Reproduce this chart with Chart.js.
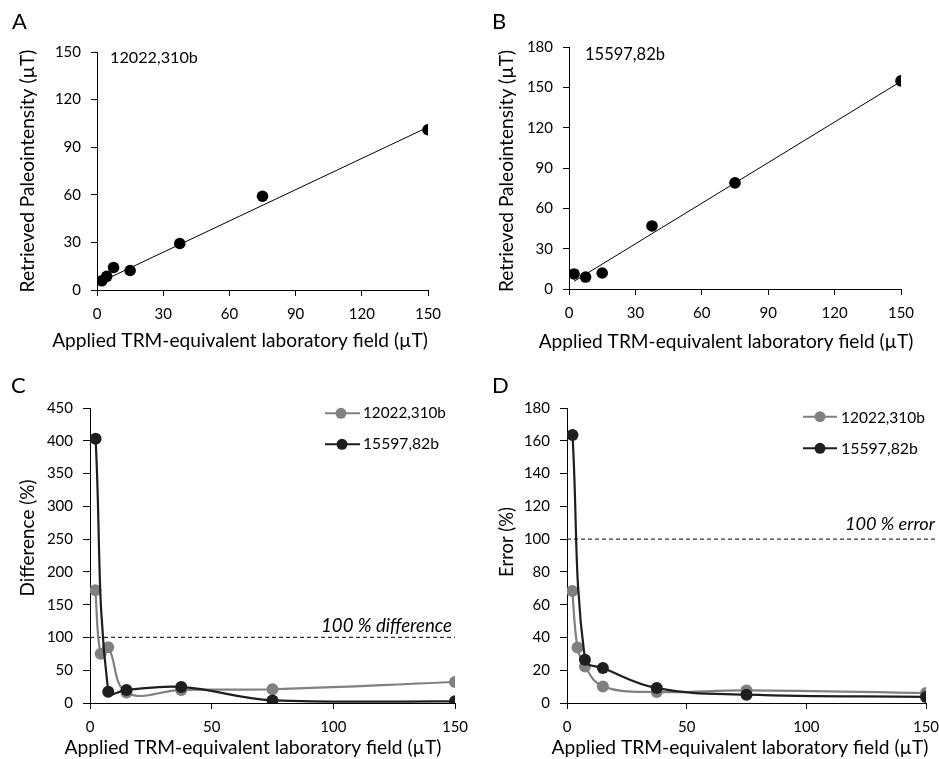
<!DOCTYPE html>
<html>
<head>
<meta charset="utf-8">
<script src="https://cdn.jsdelivr.net/npm/chart.js@4.4.0/dist/chart.umd.min.js"></script>
<style>
    html, body { margin: 0; padding: 0; background: #fff; overflow: hidden; width: 939px; height: 759px; }
    canvas { position: absolute; }
</style>
</head>
<body>
<canvas id="panelA" width="470" height="360" style="left:0;top:0"></canvas>
<canvas id="panelB" width="480" height="360" style="left:470px;top:0"></canvas>
<canvas id="panelC" width="480" height="399" style="left:0;top:360px"></canvas>
<canvas id="panelD" width="490" height="399" style="left:470px;top:360px"></canvas>
<script>
// applied lab field (uT) for the two samples
const fieldGray = [2.2, 4.4, 7.5, 15, 37.5, 75, 150];
const fieldBlack = [2.3, 7.5, 15, 37.5, 75, 150];
const seriesNames = ["12022,310b", "15597,82b"];

// retrieved paleointensity (uT)
const retrievedA = [5.8, 8.6, 14.2, 12.3, 29.3, 59.1, 101];
const retrievedB = [11.2, 8.9, 11.9, 46.9, 78.9, 154.8];
// trend line ends [x, y]
const trendA = [[1.1, 4.8], [149.5, 102.3]];
const trendB = [[2.3, 5.7], [149.6, 154]];

// difference (%)
const diffGray = [172, 75, 85, 16, 20, 21, 32];
const diffBlack = [403, 17, 20, 24.5, 4, 2.5];
// error (%)
const errGray = [68.3, 33.8, 22.3, 10.1, 6.7, 7.7, 6.1];
const errBlack = [163.5, 26.4, 21.3, 9.1, 5.1, 3.7];

const refLevel = 100;
const refSpanC = [0, 150];
const refSpanD = [0, 155];

const GRAY = "#808080";
const BLACK = "#1e1e1e";
const FONT = "Lato";

const Y_W = 60;
const X_H = 30;

function pts(xs, ys) {
    return xs.map((x, i) => ({ x: x, y: ys[i] }));
}

function axis(min, max, step, tickLen, horizontal) {
    return {
        type: "linear",
        min: min,
        max: max,
        ticks: {
            stepSize: step,
            color: "#000",
            font: { family: FONT, size: 15 },
            padding: horizontal ? 9 : 10
        },
        grid: {
            display: true,
            drawOnChartArea: false,
            drawTicks: true,
            tickLength: tickLen,
            color: "#000",
            lineWidth: 1
        },
        border: { display: true, color: "#000", width: 1 },
        afterFit: function(s) {
            if (horizontal) {
                s.height = X_H;
            } else {
                s.width = Y_W;
            }
        }
    };
}

// text and legend bits, in page coordinates
const extras = {
    panelA: [
        { text: "A", x: 12, y: 29, size: 22 },
        { text: seriesNames[0], x: 110, y: 63, size: 16, w: 88 },
        { text: "Applied TRM-equivalent laboratory field (µT)", x: 240, y: 347, size: 18, w: 376, align: "center" },
        { text: "Retrieved Paleointensity (µT)", x: 34, y: 171, size: 18, w: 243, align: "center", rot: true }
    ],
    panelB: [
        { text: "B", x: 492, y: 29, size: 22 },
        { text: seriesNames[1], x: 585, y: 60, size: 16, w: 80 },
        { text: "Applied TRM-equivalent laboratory field (µT)", x: 726, y: 348, size: 18, w: 375, align: "center" },
        { text: "Retrieved Paleointensity (µT)", x: 513, y: 171, size: 18, w: 242, align: "center", rot: true }
    ],
    panelC: [
        { text: "C", x: 11, y: 393, size: 22 },
        { legend: true, x1: 325, x2: 360, y: 413.3, cx: 341, color: GRAY },
        { text: seriesNames[0], x: 363, y: 418, size: 15, w: 83 },
        { legend: true, x1: 325, x2: 360, y: 444.3, cx: 342, color: BLACK },
        { text: seriesNames[1], x: 363, y: 449, size: 15, w: 76 },
        { text: "100 % difference", x: 452, y: 632, size: 16, w: 131, align: "right", italic: true },
        { text: "Applied TRM-equivalent laboratory field (µT)", x: 253, y: 754, size: 18, w: 377, align: "center" },
        { text: "Difference (%)", x: 34, y: 538, size: 18, w: 117, align: "center", rot: true }
    ],
    panelD: [
        { text: "D", x: 492, y: 393, size: 22 },
        { legend: true, x1: 803, x2: 837, y: 416.7, cx: 820, color: GRAY },
        { text: seriesNames[0], x: 841, y: 422.5, size: 15, w: 84 },
        { legend: true, x1: 803, x2: 837, y: 448.3, cx: 820, color: BLACK },
        { text: seriesNames[1], x: 841, y: 454, size: 15, w: 77 },
        { text: "100 % error", x: 935, y: 530, size: 16, w: 90, align: "right", italic: true },
        { text: "Applied TRM-equivalent laboratory field (µT)", x: 740, y: 754, size: 18, w: 377, align: "center" },
        { text: "Error (%)", x: 513, y: 542, size: 18, w: 70, align: "center", rot: true }
    ]
};

const panelText = {
    id: "panelText",
    afterDraw(chart) {
        const items = extras[chart.canvas.id] || [];
        const ox = chart.canvas.offsetLeft;
        const oy = chart.canvas.offsetTop;
        const ctx = chart.ctx;
        items.forEach(it => {
            ctx.save();
            if (it.legend) {
                ctx.strokeStyle = it.color;
                ctx.lineWidth = 2;
                ctx.beginPath();
                ctx.moveTo(it.x1 - ox, it.y - oy);
                ctx.lineTo(it.x2 - ox, it.y - oy);
                ctx.stroke();
                ctx.fillStyle = it.color;
                ctx.beginPath();
                ctx.arc(it.cx - ox, it.y - oy, 5.5, 0, Math.PI * 2);
                ctx.fill();
            } else {
                const style = it.italic ? "italic " : "";
                let size = it.size;
                ctx.font = style + size + "px " + FONT;
                if (it.w) {
                    size = size * it.w / ctx.measureText(it.text).width;
                    ctx.font = style + size.toFixed(2) + "px " + FONT;
                }
                ctx.fillStyle = "#000";
                ctx.textBaseline = "alphabetic";
                ctx.textAlign = it.align || "left";
                ctx.translate(it.x - ox, it.y - oy);
                if (it.rot) ctx.rotate(-Math.PI / 2);
                ctx.fillText(it.text, 0, 0);
            }
            ctx.restore();
        });
    }
};

function padFor(canvas, area) {
    return {
        left: area[0] - Y_W,
        right: canvas.width - area[1],
        top: area[2],
        bottom: canvas.height - area[3] - X_H
    };
}

function makeChart(id, area, datasets, xAxis, yAxis) {
    const canvas = document.getElementById(id);
    return new Chart(canvas, {
        type: "scatter",
        data: { datasets: datasets },
        options: {
            responsive: false,
            animation: false,
            layout: { padding: padFor(canvas, area) },
            scales: { x: xAxis, y: yAxis },
            plugins: {
                legend: { display: false },
                tooltip: { enabled: false }
            }
        },
        plugins: [panelText]
    });
}

function dots(data) {
    return {
        data: data,
        showLine: false,
        pointRadius: 5.8,
        pointBackgroundColor: "#000",
        pointBorderWidth: 0,
        order: 1
    };
}

function trend(ends) {
    return {
        data: ends.map(p => ({ x: p[0], y: p[1] })),
        showLine: true,
        borderColor: "#000",
        borderWidth: 1,
        pointRadius: 0,
        order: 2
    };
}

function curve(label, data, color, order) {
    return {
        label: label,
        data: data,
        showLine: true,
        tension: 0.4,
        borderColor: color,
        borderWidth: 2.2,
        pointRadius: 6,
        pointBackgroundColor: color,
        pointBorderWidth: 0,
        order: order
    };
}

function refLine(span) {
    return {
        data: span.map(x => ({ x: x, y: refLevel })),
        showLine: true,
        borderColor: "#333",
        borderWidth: 1.2,
        borderDash: [4, 3],
        pointRadius: 0,
        clip: false,
        order: 3
    };
}

makeChart("panelA", [97, 428, 52, 290],
    [dots(pts(fieldGray, retrievedA)), trend(trendA)],
    axis(0, 150, 30, 6, true), axis(0, 150, 30, 6, false));

makeChart("panelB", [99, 431, 47, 289],
    [dots(pts(fieldBlack, retrievedB)), trend(trendB)],
    axis(0, 150, 30, 6, true), axis(0, 180, 30, 6, false));

makeChart("panelC", [90, 455, 48, 343],
    [curve(seriesNames[1], pts(fieldBlack, diffBlack), BLACK, 1),
     curve(seriesNames[0], pts(fieldGray, diffGray), GRAY, 2),
     refLine(refSpanC)],
    axis(0, 150, 50, 6, true), axis(0, 450, 50, 7, false));

makeChart("panelD", [97, 456, 48, 343],
    [curve(seriesNames[1], pts(fieldBlack, errBlack), BLACK, 1),
     curve(seriesNames[0], pts(fieldGray, errGray), GRAY, 2),
     refLine(refSpanD)],
    axis(0, 150, 50, 6, true), axis(0, 180, 20, 7, false));
</script>
</body>
</html>
